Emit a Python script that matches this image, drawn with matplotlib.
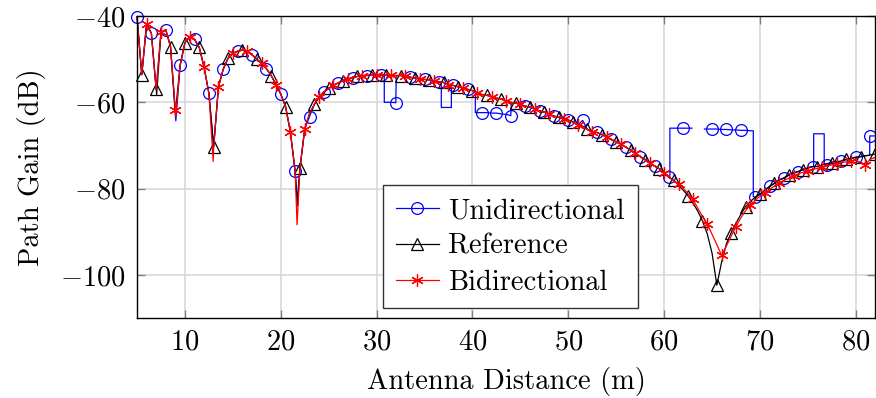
import numpy as np
import matplotlib
matplotlib.use("Agg")
import matplotlib.pyplot as plt

plt.rcParams['font.family'] = 'serif'
plt.rcParams['font.serif'] = ['cmr10']
plt.rcParams['mathtext.fontset'] = 'cm'
plt.rcParams['axes.formatter.use_mathtext'] = True

# Antenna distance grid (m), 0.5 m steps from 5 to 82
distance = np.arange(5.0, 82.0 + 0.25, 0.5)

# Path gain (dB) on the distance grid
reference_gain = [
    -40.2, -53.6, -41.8, -44.0, -57.0, -43.8, -43.2, -47.1, -62.5, -51.4,
    -46.2, -44.8, -45.4, -47.3, -51.9, -57.9, -70.3, -56.4, -52.3, -49.8,
    -48.6, -48.2, -47.9, -48.2, -49.0, -50.0, -51.0, -52.2, -53.8, -55.9,
    -58.1, -61.0, -66.8, -76.0, -75.3, -66.2, -62.6, -60.5, -58.8, -57.6,
    -56.8, -56.1, -55.5, -55.0, -54.6, -54.3, -54.0, -53.9, -53.8, -53.6,
    -53.6, -53.7, -53.7, -53.7, -53.8, -53.8, -54.0, -54.2, -54.4, -54.6,
    -54.7, -54.8, -55.1, -55.3, -55.4, -55.9, -56.1, -56.4, -56.7, -57.0,
    -57.3, -57.8, -58.2, -58.4, -58.7, -59.0, -59.3, -59.7, -60.0, -60.2,
    -60.5, -60.9, -61.1, -61.6, -62.0, -62.3, -62.8, -63.2, -63.5, -63.9,
    -64.1, -64.6, -65.2, -65.6, -66.3, -66.8, -67.0, -67.5, -68.1, -68.6,
    -69.2, -69.7, -70.4, -71.1, -71.8, -72.6, -73.3, -74.0, -74.8, -75.4,
    -76.4, -77.4, -78.1, -79.2, -80.4, -81.7, -83.3, -85.2, -87.5, -90.5,
    -95.0, -102.4, -97.0, -92.8, -90.2, -88.0, -86.0, -84.2, -83.0, -82.0,
    -81.3, -80.4, -79.5, -78.8, -78.0, -77.5, -76.9, -76.4, -76.0, -75.6,
    -75.2, -74.9, -74.9, -74.5, -74.2, -74.0, -73.8, -73.6, -73.2, -73.0,
    -72.8, -72.6, -72.4, -72.2, -72.0,
]

nan = np.nan
unidirectional_gain = [
    -40.2, -53.6, -41.8, -44.0, -57.0, -43.8, -43.2, -47.1, -62.5, -51.4,
    -46.2, -44.8, -45.4, -47.3, -51.9, -57.9, -70.3, -56.4, -52.3, -49.8,
    -48.6, -48.2, -47.9, -48.2, -49.0, -50.0, -51.0, -52.2, -53.8, -55.9,
    -58.1, -61.0, -66.8, -76.0, -75.3, -66.2, -63.3, -60.5, -58.8, -57.6,
    -56.8, -56.1, -55.5, -55.0, -54.6, -54.3, -54.0, -53.9, -53.8, -53.6,
    -53.6, -53.7, -60.0, -60.0, -60.1, -53.8, -54.0, -54.2, -54.4, -54.6,
    -54.7, -54.8, -55.1, -55.3, -61.2, -61.2, -56.1, -56.4, -56.7, -57.0,
    -57.3, -62.4, -62.4, -62.4, -62.5, -62.5, -62.7, -62.8, -63.1, -60.2,
    -60.5, -60.9, -61.1, -61.6, -62.0, -62.3, -62.8, -63.2, -63.5, -63.9,
    -64.1, -64.6, -65.2, -64.2, -66.3, -66.8, -67.0, -67.5, -68.1, -68.6,
    -69.2, -69.7, -70.4, -71.1, -71.8, -72.6, -73.3, -74.0, -74.8, -75.4,
    -76.4, -77.4, -66.0, -66.0, -66.0, -66.0, nan, nan, nan, -66.2,
    -66.2, -66.2, -66.3, -66.3, -66.4, -66.4, -66.5, -66.5, -66.6, -82.0,
    -81.3, -80.4, -79.5, -78.8, -78.0, -77.6, -76.9, -76.4, -76.1, -75.6,
    -75.2, -74.9, -67.3, -67.3, -74.5, -74.2, -74.0, -73.7, -73.3, -73.0,
    -72.7, -72.6, -72.4, -67.8, -67.8,
]

bidirectional_gain = [
    -40.2, -53.6, -41.8, -44.0, -57.0, -43.8, -43.2, -47.1, -61.8, -51.4,
    -46.2, -44.8, -45.4, -47.3, -51.9, -57.9, -70.3, -56.4, -52.3, -49.8,
    -48.6, -48.2, -47.9, -48.2, -49.0, -50.0, -51.0, -52.2, -53.8, -55.9,
    -58.1, -61.0, -66.8, -76.0, -75.3, -66.2, -62.6, -60.5, -58.8, -57.6,
    -56.8, -56.1, -55.5, -55.0, -54.6, -54.3, -54.0, -53.9, -53.8, -53.6,
    -53.6, -53.7, -53.7, -53.7, -53.8, -53.8, -54.0, -54.2, -54.4, -54.6,
    -54.7, -54.8, -55.1, -55.3, -55.4, -55.9, -56.1, -56.4, -56.7, -57.0,
    -57.3, -57.8, -58.2, -58.4, -58.7, -59.0, -59.3, -59.7, -60.0, -60.2,
    -60.5, -60.9, -61.1, -61.6, -62.0, -62.3, -62.8, -63.2, -63.5, -63.9,
    -64.1, -64.6, -65.2, -65.6, -66.3, -66.8, -67.0, -67.5, -68.1, -68.6,
    -69.2, -69.7, -70.4, -71.1, -71.8, -72.6, -73.3, -74.0, -74.8, -75.4,
    -76.4, -77.4, -78.2, -78.9, -80.0, -81.2, -82.5, -84.5, -86.5, -88.2,
    -90.6, -93.0, -95.5, -93.3, -91.0, -88.8, -86.8, -85.1, -83.8, -82.7,
    -81.8, -81.0, -80.2, -79.4, -78.6, -78.1, -77.6, -77.0, -76.6, -76.2,
    -75.9, -75.6, -75.3, -75.1, -74.8, -74.5, -74.2, -74.0, -73.8, -73.7,
    -73.5, -73.9, -74.5, -73.2, -72.8,
]

# Additional vertices between grid samples: null minima and the sharp
# jumps of the unidirectional estimate
reference_extra_x = [7.05, 21.75]
reference_extra_y = [-58.2, -84.0]

unidirectional_extra_x = [9.05, 21.7, 30.8, 30.8, 32.05, 36.75, 36.75, 37.8, 37.8,
                          40.3, 40.3, 44.05, 60.6, 60.6, 62.9, 64.2, 69.3, 69.3,
                          75.6, 75.6, 76.7, 76.7, 81.45, 81.45]
unidirectional_extra_y = [-64.3, -83.0, -53.7, -60.0, -53.8, -55.3, -61.2, -61.2, -56.0,
                          -57.6, -62.4, -60.1, -77.6, -66.0, -66.0, -66.2, -66.6, -81.9,
                          -74.9, -67.3, -67.3, -74.4, -72.3, -67.8]

bidirectional_extra_x = [9.05, 12.95, 21.7]
bidirectional_extra_y = [-63.0, -73.7, -88.4]

MARK_STEP = 3  # one marker every 1.5 m


def merged(gain, ex_x, ex_y, phase):
    gx = np.asarray(distance, float)
    gy = np.asarray(gain, float)
    x = np.concatenate([gx, np.asarray(ex_x, float)])
    y = np.concatenate([gy, np.asarray(ex_y, float)])
    on_grid = np.concatenate([np.arange(len(gx)) % MARK_STEP == phase,
                              np.zeros(len(ex_x), bool)])
    order = np.argsort(x, kind='stable')
    return x[order], y[order], on_grid[order]


fig = plt.figure(figsize=(8.76, 3.98), dpi=100)
ax = fig.add_axes([137 / 876, 80 / 398, 738 / 876, 302 / 398])

series = [
    ("Unidirectional", unidirectional_gain, unidirectional_extra_x, unidirectional_extra_y,
     0, dict(color=(0, 0, 1), marker='o', markersize=8.5)),
    ("Reference", reference_gain, reference_extra_x, reference_extra_y,
     1, dict(color='black', marker='^', markersize=8.0)),
    ("Bidirectional", bidirectional_gain, bidirectional_extra_x, bidirectional_extra_y,
     2, dict(color=(1, 0, 0), marker=(6, 2, 0), markersize=9.0)),
]

for label, gain, ex_x, ex_y, phase, style in series:
    x, y, marks = merged(gain, ex_x, ex_y, phase)
    ax.plot(x, y, label=label, linewidth=0.9, markevery=list(np.flatnonzero(marks)),
            markerfacecolor='none', markeredgecolor=style['color'],
            markeredgewidth=0.9, clip_on=False, **style)

ax.set_xlim(5, 82)
ax.set_ylim(-110, -40)
ax.set_xticks([10, 20, 30, 40, 50, 60, 70, 80])
ax.set_yticks([-100, -80, -60, -40])
ax.grid(True, color='#d6d6d6', linewidth=1.1)
ax.set_axisbelow(True)
ax.tick_params(direction='in', top=True, right=True, length=6, width=1.0,
               color='#808080', labelsize=20.5, pad=8)
for sp in ax.spines.values():
    sp.set_color('black')
    sp.set_linewidth(1.0)

ax.set_xlabel("Antenna Distance (m)", fontsize=20.5, labelpad=8)
ax.set_ylabel("Path Gain (dB)", fontsize=20.5, labelpad=10)

leg = ax.legend(loc='upper left', bbox_to_anchor=(383 / 876, 1 - 185 / 398),
                bbox_transform=fig.transFigure, borderaxespad=0, fontsize=20.5,
                fancybox=False, framealpha=1, edgecolor='#333333',
                handlelength=1.5, handletextpad=0.35, labelspacing=0.33,
                borderpad=0.45)
leg.get_frame().set_linewidth(1.0)
leg.set_zorder(5)

fig.savefig("out.png", dpi=100)
